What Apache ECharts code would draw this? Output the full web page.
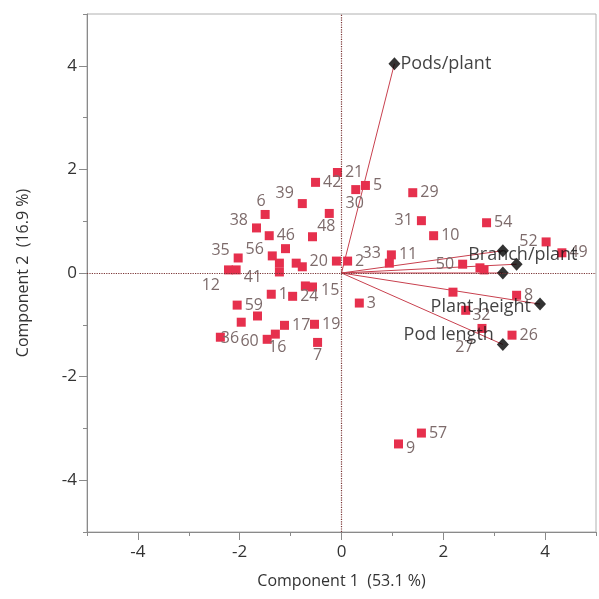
<!DOCTYPE html>
<html><head><meta charset="utf-8">
<script src="https://cdn.jsdelivr.net/npm/echarts@6/dist/echarts.min.js"></script>
<style>html,body{margin:0;padding:0;background:#fff}#c{width:599px;height:599px}</style>
</head><body><div id="c"></div>
<script>
// ---- data ----
const scoreNames = ['21','42','30','5','39','6','38','48','','46','29','31','10','54','11','33','52','49','50','','','8','','32','27','26','9','57','3','20','2','15','','1','24','35','12','41','56','','','','','','59','','','36','60','16','17','19','7'];
const scoreX = [-0.08,-0.51,0.28,0.47,-0.77,-1.50,-1.67,-0.24,-0.57,-1.42,1.40,1.57,1.81,2.85,0.98,0.94,4.02,4.33,2.38,2.72,2.80,3.44,2.19,2.44,2.76,3.35,1.12,1.57,0.35,-0.10,0.12,-0.57,-0.71,-1.38,-0.96,-2.03,-2.22,-2.07,-1.36,-1.10,-1.22,-1.22,-0.89,-0.77,-2.05,-1.65,-1.97,-2.38,-1.46,-1.30,-1.12,-0.53,-0.47];
const scoreY = [1.94,1.75,1.61,1.69,1.34,1.13,0.87,1.15,0.70,0.72,1.55,1.01,0.72,0.97,0.35,0.19,0.60,0.39,0.17,0.10,0.06,-0.43,-0.37,-0.72,-1.07,-1.20,-3.30,-3.09,-0.58,0.23,0.23,-0.27,-0.25,-0.41,-0.45,0.29,0.06,0.06,0.33,0.47,0.19,0.02,0.19,0.12,-0.62,-0.83,-0.95,-1.24,-1.28,-1.18,-1.01,-0.99,-1.34];

const loadingNames = ['Pods/plant','Branch/plant','','','Plant height','Pod length'];
const loadingX = [1.04,3.17,3.44,3.17,3.90,3.17];
const loadingY = [4.04,0.43,0.17,0.00,-0.60,-1.38];

const xTickLabels = [-4,-2,0,2,4];
const yTickLabels = [-4,-2,0,2,4];
const xTitle = 'Component 1  (53.1 %)';
const yTitle = 'Component 2  (16.9 %)';

// ---- label placement (style only) ----
const scorePlace = {
  '30':['bottom',[-1,-3]], '39':['left',[0,-10]], '6':['top',[-4,3]], '38':['left',[0,-7]],
  '48':['bottom',[-3,-3]], '31':['left',[0,0]], '52':['left',[0,0]], '33':['left',[0,-10]],
  '50':['left',[0,0]], '32':['right',[-2,5]], '27':['left',[0,19]], '9':['right',[-1,4]],
  '20':['left',[0,0]], '35':['left',[0,-8]], '12':['left',[0,16]], '41':['right',[-1,8]],
  '56':['left',[0,-6]], '36':['right',[-8,1]], '60':['left',[0,2]], '16':['bottom',[2,-3]],
  '7':['bottom',[0,-3]], '15':['right',[0,3]]
};
const loadPlace = {
  'Pods/plant':['right',[-3,0]], 'Branch/plant':['inside',[20,4]],
  'Plant height':['left',[0,3]], 'Pod length':['left',[0,-10]]
};

const FONT = '"Open Sans", "Noto Sans", sans-serif';
const scoreData = scoreNames.map((n,i)=>{
  const p = scorePlace[n] || ['right',[-1,0]];
  return {name:n, value:[scoreX[i],scoreY[i]], label:{show:n!=='', position:p[0], offset:p[1]}};
});
const loadData = loadingNames.map((n,i)=>{
  const p = loadPlace[n] || ['right',[0,0]];
  return {name:n, value:[loadingX[i],loadingY[i]], label:{show:n!=='', position:p[0], offset:p[1]}};
});
const vectorSeries = loadingNames.map((n,i)=>({
  type:'line', data:[[0,0],[loadingX[i],loadingY[i]]], symbol:'none', silent:true, z:2,
  lineStyle:{color:'#c8404e', width:1}
}));

function baseAxis(extra){
  return Object.assign({
    min:-5, max:5, interval:1,
    axisLine:{show:true, onZero:false, lineStyle:{color:'#8a8a8a', width:1}},
    axisTick:{show:true, inside:false, length:4, lineStyle:{color:'#8a8a8a'}},
    splitLine:{show:false},
    nameLocation:'middle', nameTextStyle:{color:'#333', fontSize:16, fontFamily:FONT}
  }, extra);
}
function majorAxis(pos, ticks){
  return {
    position:pos, min:-5, max:5, interval:1,
    axisLine:{show:false, onZero:false}, splitLine:{show:false},
    axisLabel:{show:false},
    axisTick:{show:true, length:8, customValues:ticks, lineStyle:{color:'#8a8a8a'}}
  };
}

const chart = echarts.init(document.getElementById('c'), null, {renderer:'canvas'});
chart.setOption({
  animation:false,
  grid:{left:87, right:2, top:14, bottom:67, show:true, borderColor:'#b0b0b0', borderWidth:1, backgroundColor:'transparent'},
  xAxis:[
    baseAxis({type:'value', position:'bottom', name:xTitle, nameGap:41, axisLabel:{color:'#333', fontSize:17, fontFamily:FONT, margin:12, formatter:v=>(v%2===0?String(v):'')}}),
    Object.assign({type:'value'}, majorAxis('bottom', xTickLabels))
  ],
  yAxis:[
    baseAxis({type:'value', position:'left', name:yTitle, nameGap:56, axisLabel:{color:'#333', fontSize:17, fontFamily:FONT, margin:10, formatter:v=>(v%2===0?String(v):'')}}),
    Object.assign({type:'value'}, majorAxis('left', yTickLabels))
  ],
  series:[
    {type:'scatter', data:[], silent:true,
      markLine:{silent:true, symbol:'none', label:{show:false},
        lineStyle:{color:'#7a3535', type:'dotted', width:1.2},
        data:[{xAxis:0},{yAxis:0}]}},
    ...vectorSeries,
    {type:'scatter', data:scoreData, symbol:'rect', symbolSize:9, z:3,
      itemStyle:{color:'#e6304d', opacity:1},
      label:{show:true, formatter:'{b}', color:'#7d6b6b', fontSize:16, fontFamily:FONT, distance:4}},
    {type:'scatter', data:loadData, symbol:'diamond', symbolSize:[12,13], z:4,
      itemStyle:{color:'#000'},
      label:{show:true, formatter:'{b}', color:'#111', fontSize:18, fontFamily:FONT, distance:3}}
  ]
});
</script>
</body></html>
